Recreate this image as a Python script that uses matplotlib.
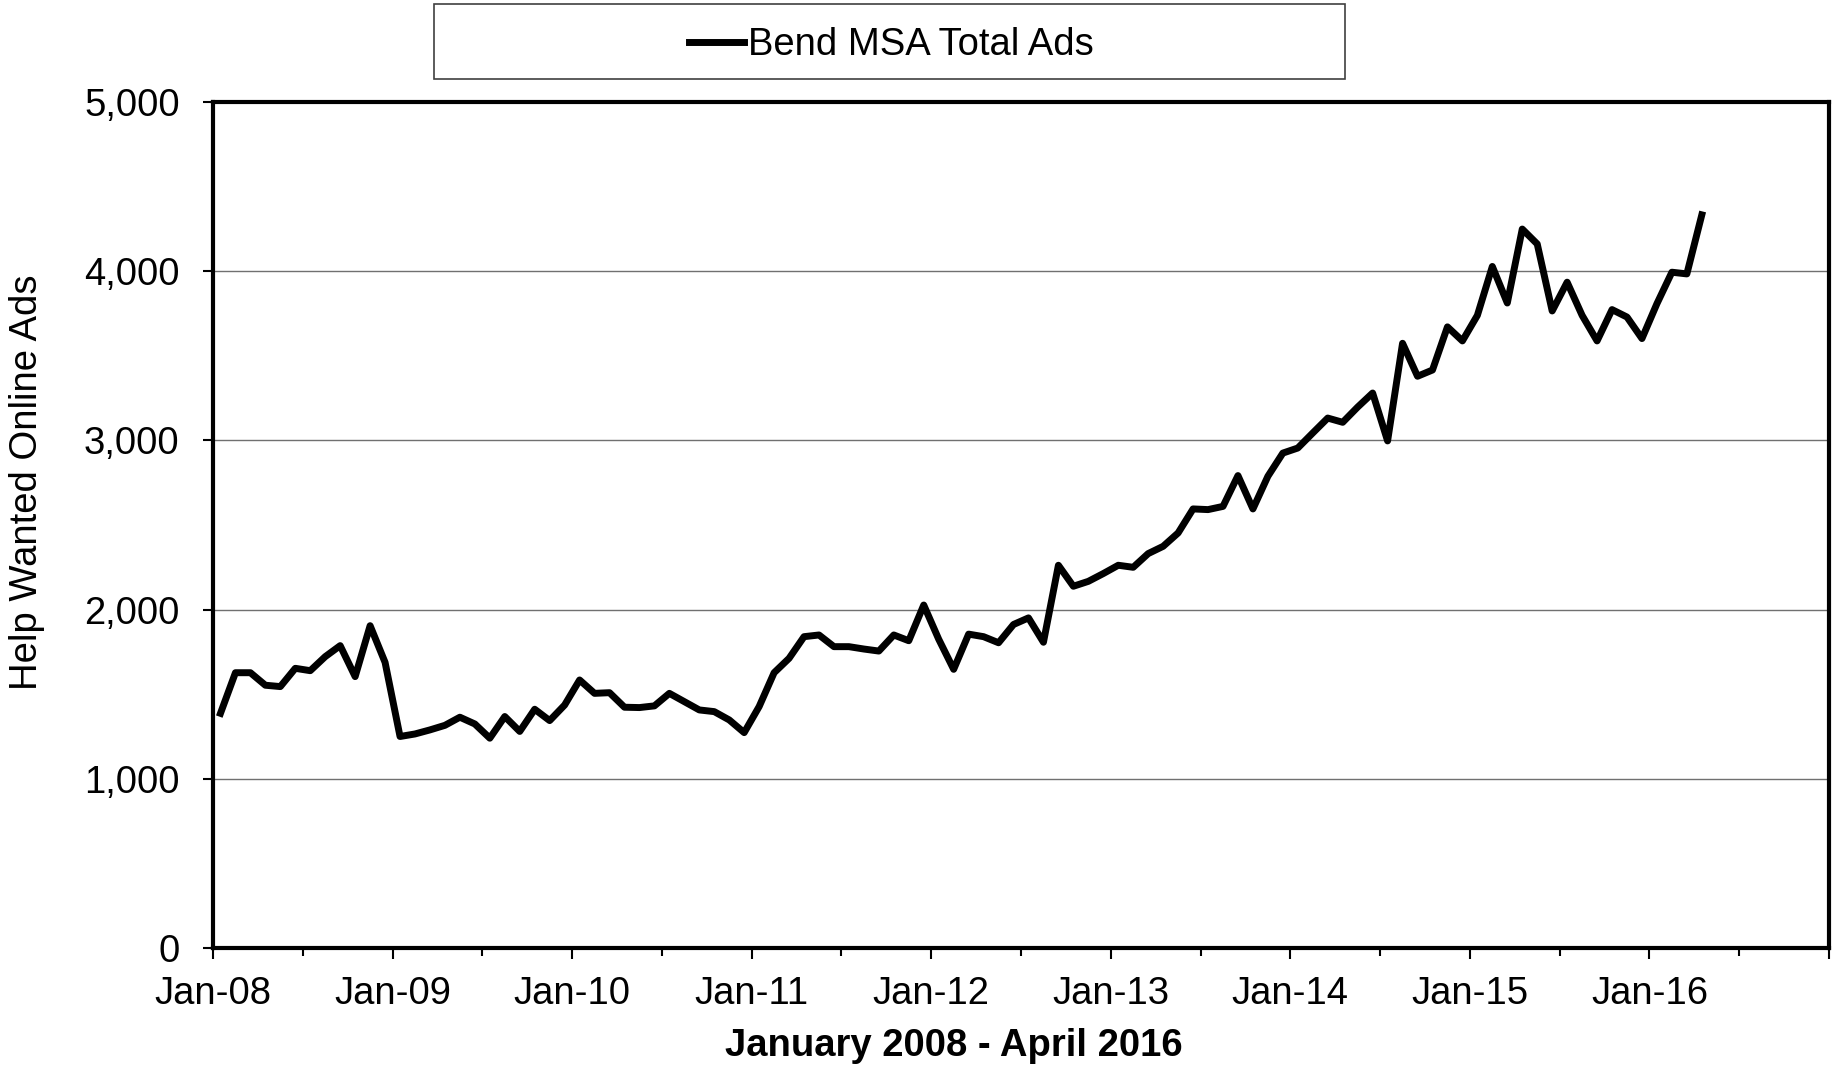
import numpy as np
import matplotlib
matplotlib.use('Agg')
import matplotlib.pyplot as plt
from matplotlib.patches import Rectangle
from matplotlib.ticker import FuncFormatter

plt.rcParams['font.family'] = ['Liberation Sans', 'DejaVu Sans']

# monthly help wanted online ads, Jan 2008 - Apr 2016
ads = [1387, 1627, 1627, 1553, 1545, 1653, 1639, 1722, 1787, 1604, 1905, 1688,
       1250, 1265, 1289, 1316, 1364, 1324, 1240, 1368, 1280, 1411, 1344, 1436,
       1584, 1505, 1509, 1423, 1421, 1431, 1505, 1456, 1407, 1397, 1348, 1273,
       1427, 1627, 1712, 1840, 1850, 1781, 1781, 1767, 1755, 1850, 1816, 2027,
       1825, 1647, 1855, 1840, 1804, 1912, 1951, 1807, 2262, 2138, 2167, 2213,
       2262, 2250, 2331, 2374, 2453, 2595, 2591, 2610, 2792, 2595, 2788, 2925,
       2955, 3044, 3132, 3107, 3197, 3280, 2997, 3574, 3379, 3416, 3671, 3588,
       3739, 4028, 3812, 4249, 4161, 3765, 3935, 3739, 3588, 3773, 3729, 3602,
       3808, 3994, 3984, 4333]
year_labels = ['Jan-08', 'Jan-09', 'Jan-10', 'Jan-11', 'Jan-12',
               'Jan-13', 'Jan-14', 'Jan-15', 'Jan-16', '']
series_name = 'Bend MSA Total Ads'

fig = plt.figure(figsize=(18.41, 10.68), dpi=100)
ax = fig.add_axes([213/1841, 1-948/1068, (1829-213)/1841, (948-102)/1068])

x = np.arange(len(ads)) + 0.5
line, = ax.plot(x, ads, color='black', lw=5.0, label=series_name)

ax.set_xlim(0, 12 * (len(year_labels) - 1))
ax.set_ylim(0, 5000)
ax.set_xticks(np.arange(0, 12 * len(year_labels), 12))
ax.set_xticklabels(year_labels)
ax.set_xticks(np.arange(6, 12 * (len(year_labels) - 1), 12), minor=True)
ax.set_yticks(np.arange(0, 5001, 1000))
ax.yaxis.set_major_formatter(FuncFormatter(lambda v, p: f'{int(v):,}'))

ax.grid(axis='y', color='#707070', lw=1.0)
ax.set_axisbelow(True)
for s in ax.spines.values():
    s.set_linewidth(3.0)
    s.set_color('black')

ax.tick_params(axis='x', which='major', length=8, width=1.5, pad=12, labelsize=27.5, direction='out')
ax.tick_params(axis='x', which='minor', length=5.5, width=1.5, direction='out')
ax.tick_params(axis='y', length=7, width=1.5, pad=17, labelsize=27.5, direction='out')

ax.set_ylabel('Help Wanted Online Ads', fontsize=27.5)
ax.yaxis.set_label_coords(-0.104, 0.55)
ax.set_xlabel('January 2008 - April 2016', fontsize=27.5, fontweight='bold')
ax.xaxis.set_label_coords(0.4585, -0.094)

# legend box on top
fig.patches.append(Rectangle((434/1841, 1-79/1068), (1345-434)/1841, 75/1068,
                             transform=fig.transFigure, facecolor='white',
                             edgecolor='#404040', lw=1.2))
fig.legend(handles=[line], loc='center', bbox_to_anchor=(891/1841, 1-45/1068),
           frameon=False, fontsize=27.5, handlelength=1.45, handletextpad=0.1)

fig.savefig('out.png', dpi=100)
